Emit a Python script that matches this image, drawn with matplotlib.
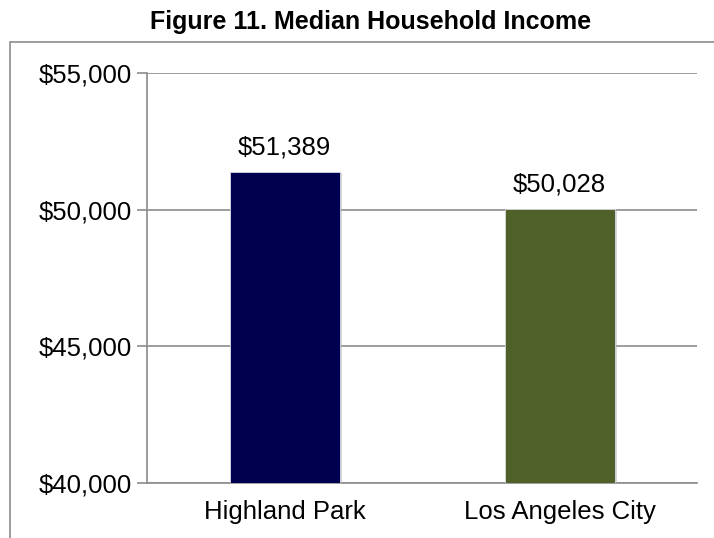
import matplotlib
matplotlib.use("Agg")
import matplotlib.pyplot as plt
import matplotlib.patheffects as pe
from matplotlib.patches import Rectangle
from matplotlib.ticker import FuncFormatter

places = ["Highland Park", "Los Angeles City"]
incomes = [51389, 50028]
bar_colors = ["#00004f", "#4f6128"]
y_ticks = [40000, 45000, 50000, 55000]

plt.rcParams["font.family"] = ["Liberation Sans", "DejaVu Sans"]
FS = 18.5

fig = plt.figure(figsize=(7.14, 5.38), dpi=100)
ax = fig.add_axes([147 / 714, 1 - 483 / 538, 550 / 714, 410 / 538])

# outer chart border (runs off the right and bottom edges)
fig.patches.append(Rectangle((10 / 714, -0.05), 1.2, 1 - 42 / 538 + 0.05,
                             transform=fig.transFigure, fill=False,
                             edgecolor="#8c8c8c", linewidth=1.2))

fig.text(371 / 714, 1 - 22 / 538, "Figure 11. Median Household Income",
         ha="center", va="center", fontsize=18, fontweight="bold")

x = range(len(places))
bars = ax.bar(x, incomes, width=0.4, color=bar_colors, zorder=3,
              edgecolor="#d9d9e8", linewidth=0.6)
for b in bars:
    b.set_path_effects([pe.SimplePatchShadow(offset=(2, -1), shadow_rgbFace="#b0b0b0", alpha=0.5),
                        pe.Normal()])

for xi, v in zip(x, incomes):
    ax.text(xi, v + 450, f"${v:,}", ha="center", va="bottom", fontsize=FS)

ax.set_xlim(-0.5, 1.5)
ax.set_ylim(40000, 55000)
ax.set_yticks(y_ticks)
ax.yaxis.set_major_formatter(FuncFormatter(lambda v, p: f"${v:,.0f}"))
ax.set_xticks(list(x))
ax.set_xticklabels(places)
ax.tick_params(axis="y", length=7, color="#8c8c8c", width=1.2, labelsize=FS, pad=4)
ax.tick_params(axis="x", length=0, labelsize=FS, pad=12)

ax.grid(axis="y", color="#8c8c8c", linewidth=1.2, zorder=0)
for side in ["top", "right"]:
    ax.spines[side].set_visible(False)
for side in ["left", "bottom"]:
    ax.spines[side].set_color("#8c8c8c")
    ax.spines[side].set_linewidth(1.2)

fig.savefig("out.png", dpi=100)
